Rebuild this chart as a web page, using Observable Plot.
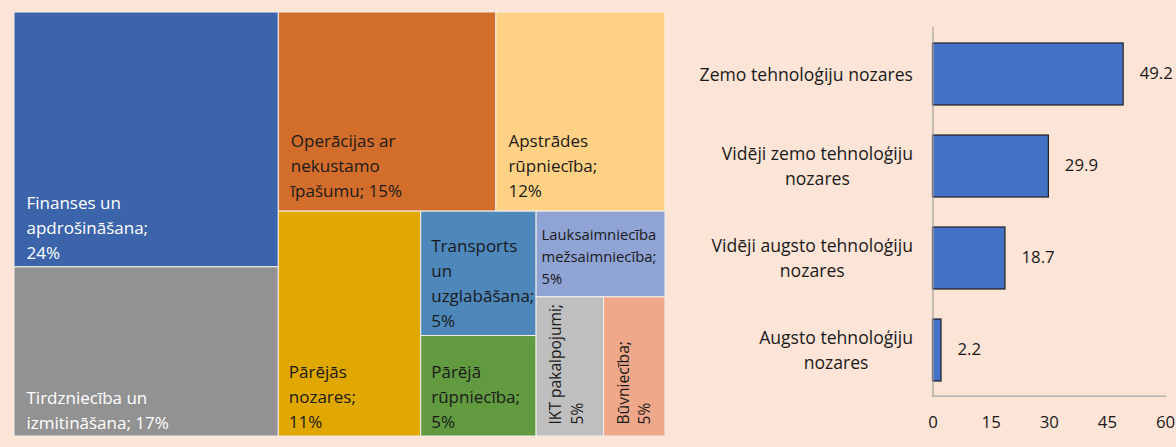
<!DOCTYPE html>
<html><head><meta charset="utf-8">
<script src="https://cdn.jsdelivr.net/npm/d3@7"></script>
<script src="https://cdn.jsdelivr.net/npm/@observablehq/plot@0.6"></script>
<style>
html,body{margin:0;padding:0;background:#fce4d6;}
#wrap{display:flex;width:1176px;height:447px;}
#wrap svg{flex:none;overflow:visible;}
</style></head><body><div id="wrap"></div>
<script>
// ---- Treemap data (left) ----
const sectors = ["Finanses un apdrošināšana", "Tirdzniecība un izmitināšana", "Operācijas ar nekustamo īpašumu", "Apstrādes rūpniecība", "Pārējās nozares", "Transports un uzglabāšana", "Pārējā rūpniecība", "Lauksaimniecība un mežsaimniecība", "IKT pakalpojumi", "Būvniecība"];
const sectorShares = [24.4, 16.2, 15.7, 12.2, 11.6, 5.2, 4.2, 4.0, 3.4, 3.1];
const sectorLabels = ["Finanses un\napdrošināšana;\n24%", "Tirdzniecība un\nizmitināšana; 17%", "Operācijas ar\nnekustamo\nīpašumu; 15%", "Apstrādes\nrūpniecība;\n12%", "Pārējās\nnozares;\n11%", "Transports\nun\nuzglabāšana;\n5%", "Pārējā\nrūpniecība;\n5%", "Lauksaimniecība\nmežsaimniecība;\n5%", "IKT pakalpojumi;\n5%", "Būvniecība;\n5%"];

// ---- Bar chart data (right) ----
const techGroups = ["Zemo tehnoloģiju nozares", "Vidēji zemo tehnoloģiju nozares", "Vidēji augsto tehnoloģiju nozares", "Augsto tehnoloģiju nozares"];
const techLabels = ["Zemo tehnoloģiju nozares", "Vidēji zemo tehnoloģiju\nnozares", "Vidēji augsto tehnoloģiju\nnozares", "Augsto tehnoloģiju\nnozares"];
const techValues = [49.2, 29.9, 18.7, 2.2];
const xTicks = [0, 15, 30, 45, 60];

// ---- styles ----
const sectorColors = ["#3c64ab", "#929292", "#d26d2b", "#ffd184", "#e0a800", "#4e87ba", "#619a3f", "#8fa3d5", "#bfbfbf", "#f0a88a"];
const whiteText = new Set(["Finanses un apdrošināšana", "Tirdzniecība un izmitināšana"]);
const raisedText = new Set(["Operācijas ar nekustamo īpašumu", "Apstrādes rūpniecība"]);
const smallText = new Set(["Lauksaimniecība un mežsaimniecība", "IKT pakalpojumi", "Būvniecība"]);
const FONT = "'Open Sans', sans-serif";
const INK = "#1a1a1a";

// ---- Treemap ----
const TW = 680, TH = 447;
const tm = {top: 12, right: 15, bottom: 11, left: 14};
const iw = TW - tm.left - tm.right, ih = TH - tm.top - tm.bottom;
const root = d3.hierarchy({children: sectors.map((name, i) => ({name, value: sectorShares[i], label: sectorLabels[i]}))})
  .sum(d => d.value || 0)
  .sort((a, b) => b.value - a.value);
d3.treemap().tile(d3.treemapSquarify.ratio(1.25)).size([iw, ih])(root);
const cells = root.leaves().map(l => ({
  name: l.data.name, label: l.data.label,
  x0: l.x0, x1: l.x1, y0: l.y0, y1: l.y1,
  rotated: (l.y1 - l.y0) > 1.8 * (l.x1 - l.x0)
}));
const flat = cells.filter(d => !d.rotated);
const rot = cells.filter(d => d.rotated);
const darkNormal = flat.filter(d => !whiteText.has(d.name) && !smallText.has(d.name));

const tree = Plot.plot({
  width: TW, height: TH,
  marginTop: tm.top, marginRight: tm.right, marginBottom: tm.bottom, marginLeft: tm.left,
  x: {domain: [0, iw], axis: null},
  y: {domain: [0, ih], axis: null, reverse: true},
  color: {domain: sectors, range: sectorColors},
  style: {background: "none", fontFamily: FONT},
  marks: [
    Plot.rect(cells, {x1: "x0", x2: "x1", y1: "y0", y2: "y1", fill: "name", stroke: "#f4f0ec", strokeWidth: 1}),
    Plot.text(flat.filter(d => whiteText.has(d.name)), {x: "x0", y: "y1", text: "label", textAnchor: "start", lineAnchor: "bottom", dx: 12, dy: -8, fontSize: 17, lineHeight: 1.47, fill: "white"}),
    Plot.text(darkNormal.filter(d => !raisedText.has(d.name)), {x: "x0", y: "y1", text: "label", textAnchor: "start", lineAnchor: "bottom", dx: 10, dy: -9, fontSize: 17, lineHeight: 1.47, fill: INK}),
    Plot.text(darkNormal.filter(d => raisedText.has(d.name)), {x: "x0", y: "y1", text: "label", textAnchor: "start", lineAnchor: "bottom", dx: 12, dy: -15, fontSize: 17, lineHeight: 1.47, fill: INK}),
    Plot.text(flat.filter(d => smallText.has(d.name)), {x: "x0", y: "y1", text: "label", textAnchor: "start", lineAnchor: "bottom", dx: 5, dy: -13, fontSize: 14.8, lineHeight: 1.5, fill: INK}),
    Plot.text(rot, {x: "x0", y: "y1", text: "label", rotate: -90, textAnchor: "start", lineAnchor: "top", dx: 9, dy: -12, fontSize: 15.6, lineHeight: 1.4, fill: INK})
  ]
});

// ---- Bar chart ----
const barData = techGroups.map((g, i) => ({group: g, value: techValues[i]}));
const bars = Plot.plot({
  width: 496, height: 447,
  marginLeft: 252.5, marginRight: 11, marginTop: 27, marginBottom: 51.3,
  x: {domain: [0, 60], label: null},
  y: {domain: techGroups, paddingInner: 0.33, paddingOuter: 0.165, label: null},
  style: {background: "none", fontFamily: FONT, color: INK},
  marks: [
    Plot.barX(barData, {x: "value", y: "group", fill: "#4472c4", stroke: "#1f1f1f", strokeWidth: 1.2}),
    Plot.text(barData, {x: "value", y: "group", text: d => d.value.toFixed(1), textAnchor: "start", dx: 16, dy: -1, fontSize: 16.8, fill: INK}),
    Plot.frame({anchor: "left", stroke: "#a6a6a6", strokeWidth: 1.3}),
    Plot.frame({anchor: "bottom", stroke: "#a6a6a6", strokeWidth: 1.3}),
    Plot.axisX({ticks: xTicks, tickSize: 0, tickPadding: 20, fontSize: 16.8, fill: INK, label: null}),
    Plot.axisY({tickSize: 0, tickPadding: 20, fontSize: 17.6, lineHeight: 1.42, dy: -2, fill: INK, label: null, tickFormat: d => techLabels[techGroups.indexOf(d)]})
  ]
});

const wrap = document.getElementById("wrap");
wrap.appendChild(tree);
wrap.appendChild(bars);

// Center wrapped lines of multi-line y-axis labels (block stays right-aligned)
bars.querySelectorAll('g[aria-label="y-axis tick label"] text').forEach(t => {
  const spans = t.querySelectorAll("tspan");
  if (spans.length > 1) {
    let w = 0;
    spans.forEach(s => { w = Math.max(w, s.getComputedTextLength()); });
    t.setAttribute("text-anchor", "middle");
    spans.forEach(s => s.setAttribute("x", -w / 2));
  }
});
</script>
</body></html>
